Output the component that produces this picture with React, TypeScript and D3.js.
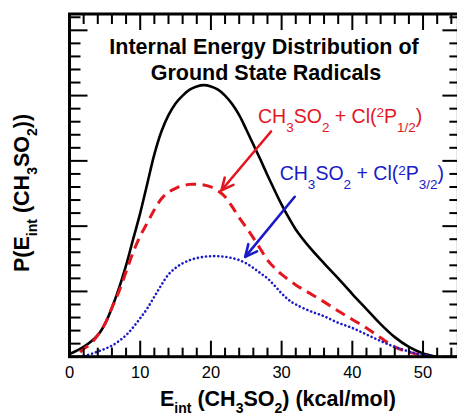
import React from "react";
import * as d3 from "d3";

const W = 457;
const H = 416;

// Total (black solid)
const totalE = [0, 2, 4, 5, 6, 7, 8, 9, 10, 11, 12, 13, 14, 15, 16, 17, 18, 19, 20, 21, 22, 23, 24, 25, 26, 27, 28, 29, 30, 31, 32, 34, 36, 38, 40, 42, 44, 46, 48, 50, 52];
const totalP = [0.04, 0.15, 0.33, 0.5, 0.75, 1.05, 1.4, 1.8, 2.2, 2.65, 3.1, 3.45, 3.7, 3.88, 4.0, 4.09, 4.14, 4.16, 4.14, 4.09, 4.0, 3.87, 3.7, 3.48, 3.25, 3.02, 2.78, 2.55, 2.33, 2.13, 1.95, 1.67, 1.43, 1.2, 0.96, 0.73, 0.5, 0.3, 0.15, 0.05, 0.0];

// Cl(2P1/2) (red dashed)
const p12E = [1.5, 2, 3, 4, 5, 6, 7, 8, 9, 10, 11, 12, 13, 14, 15, 16, 17, 18, 19, 20, 21, 22, 23, 24, 25, 26, 27, 28, 29, 30, 32, 34, 36, 38, 40, 42, 44, 46, 48, 50, 51];
const p12P = [0.07, 0.12, 0.2, 0.33, 0.5, 0.75, 1.0, 1.3, 1.6, 1.85, 2.05, 2.25, 2.42, 2.52, 2.58, 2.62, 2.64, 2.64, 2.63, 2.6, 2.54, 2.45, 2.3, 2.13, 1.98, 1.82, 1.65, 1.48, 1.36, 1.26, 1.1, 0.97, 0.84, 0.7, 0.57, 0.44, 0.29, 0.15, 0.07, 0.02, 0.0];

// Cl(2P3/2) (blue dotted)
const p32E = [1.5, 2, 3, 4, 5, 6, 7, 8, 9, 10, 11, 12, 13, 14, 15, 16, 17, 18, 19, 20, 21, 22, 23, 24, 25, 26, 27, 28, 29, 30, 31, 32, 34, 36, 38, 40, 42, 44, 46, 48, 50, 52];
const p32P = [0.0, 0.01, 0.04, 0.08, 0.12, 0.17, 0.24, 0.33, 0.45, 0.59, 0.74, 0.92, 1.1, 1.26, 1.36, 1.43, 1.48, 1.51, 1.53, 1.54, 1.54, 1.53, 1.51, 1.48, 1.43, 1.36, 1.28, 1.2, 1.09, 0.97, 0.87, 0.8, 0.7, 0.62, 0.52, 0.44, 0.34, 0.24, 0.15, 0.08, 0.03, 0.0];

const xTickLabels = [0, 10, 20, 30, 40, 50];

// Annotation arrows in data coordinates [E, P]
const redArrow = [[28.5, 3.45], [21.5, 2.55]];
const blueArrow = [[31.85, 2.45], [24.85, 1.53]];

const RED = "#e3161f";
const BLUE = "#1a1ac8";
const FONT = "'Liberation Sans', Arial, Helvetica, sans-serif";

type Seg = { t: string; o?: number; s?: number };

function RichText({ x, y, segs, size, weight, fill, anchor, transform }: any) {
  let prev = 0;
  return (
    <text x={x} y={y} fontSize={size} fontWeight={weight} fill={fill} fontFamily={FONT} textAnchor={anchor || "start"} transform={transform}>
      {segs.map((s: Seg, i: number) => {
        const off = s.o || 0;
        const dy = off - prev;
        prev = off;
        return (
          <tspan key={i} dy={dy} fontSize={s.s || size}>
            {s.t}
          </tspan>
        );
      })}
    </text>
  );
}

export default function App() {
  const x = d3.scaleLinear().domain([0, 55]).range([69.5, 458.4]);
  const y = d3.scaleLinear().domain([0, 5.25]).range([356.7, 14]);

  const line = d3
    .line<[number, number]>()
    .x((d) => x(d[0]))
    .y((d) => y(d[1]))
    .curve(d3.curveCatmullRom.alpha(0.5));

  const zip = (a: number[], b: number[]) => a.map((v, i) => [v, b[i]] as [number, number]);

  const xMinor = d3.range(0, 55, 2);
  const yMinor = d3.range(0, 5.21, 0.2);

  const x0 = x(0), x1 = x(55), y0 = y(0), y1 = y(5.25);

  const arrow = (pts: number[][], color: string) => {
    const [sx, sy] = [x(pts[0][0]), y(pts[0][1])];
    const [ex, ey] = [x(pts[1][0]), y(pts[1][1])];
    const ang = Math.atan2(ey - sy, ex - sx);
    const L = 13, a = 0.45;
    const h1 = [ex - L * Math.cos(ang - a), ey - L * Math.sin(ang - a)];
    const h2 = [ex - L * Math.cos(ang + a), ey - L * Math.sin(ang + a)];
    return (
      <g stroke={color} strokeWidth={2.6} fill="none" strokeLinecap="round" strokeLinejoin="round">
        <line x1={sx} y1={sy} x2={ex} y2={ey} />
        <path d={`M${h1[0]},${h1[1]}L${ex},${ey}L${h2[0]},${h2[1]}`} />
      </g>
    );
  };

  const subS = 13.5;

  return (
    <svg width={W} height={H} style={{ position: "absolute", left: 0, top: 0, background: "#fff" }}>
      {/* curves */}
      <path d={line(zip(totalE, totalP)) || ""} fill="none" stroke="#000" strokeWidth={2.6} />
      <path d={line(zip(p12E, p12P)) || ""} fill="none" stroke={RED} strokeWidth={3} strokeDasharray="10.5,6.5" />
      <path d={line(zip(p32E, p32P)) || ""} fill="none" stroke={BLUE} strokeWidth={2.6} strokeDasharray="0.1,4" strokeLinecap="round" />

      {/* arrows */}
      {arrow(redArrow, RED)}
      {arrow(blueArrow, BLUE)}

      {/* ticks */}
      <g stroke="#000" strokeWidth={2}>
        {xMinor.map((v) => {
          const major = v % 10 === 0;
          const len = major ? 16 : 9;
          return (
            <g key={"x" + v}>
              <line x1={x(v)} x2={x(v)} y1={y0} y2={y0 - len} />
              <line x1={x(v)} x2={x(v)} y1={y1} y2={y1 + (major ? 16 : 10)} />
            </g>
          );
        })}
        {yMinor.map((v, i) => {
          const major = i % 5 === 0;
          const len = major ? 18 : 11;
          return (
            <g key={"y" + i}>
              <line x1={x0} x2={x0 + len} y1={y(v)} y2={y(v)} />
              <line x1={x1} x2={x1 - (major ? 16 : 9)} y1={y(v)} y2={y(v)} />
            </g>
          );
        })}
      </g>

      {/* frame */}
      <rect x={x0} y={y1} width={x1 - x0} height={y0 - y1} fill="none" stroke="#000" strokeWidth={3} />

      {/* x tick labels */}
      {xTickLabels.map((v) => (
        <text key={"xl" + v} x={x(v)} y={377.5} fontSize={16.5} fontFamily={FONT} textAnchor="middle" fill="#000">
          {v}
        </text>
      ))}

      {/* title */}
      <text x={264} y={54} fontSize={21.5} fontWeight="bold" fontFamily={FONT} textAnchor="middle">
        Internal Energy Distribution of
      </text>
      <text x={266} y={80} fontSize={21.5} fontWeight="bold" fontFamily={FONT} textAnchor="middle">
        Ground State Radicals
      </text>

      {/* series labels */}
      <RichText
        x={258}
        y={122.7}
        size={19.5}
        fill={RED}
        segs={[
          { t: "CH" },
          { t: "3", o: 9, s: subS },
          { t: "SO" },
          { t: "2", o: 9, s: subS },
          { t: " + Cl(" },
          { t: "2", o: -5.5, s: subS },
          { t: "P" },
          { t: "1/2", o: 9, s: subS },
          { t: ")" },
        ]}
      />
      <RichText
        x={279.7}
        y={180}
        size={19.5}
        fill={BLUE}
        segs={[
          { t: "CH" },
          { t: "3", o: 9, s: subS },
          { t: "SO" },
          { t: "2", o: 9, s: subS },
          { t: " + Cl(" },
          { t: "2", o: -5.5, s: subS },
          { t: "P" },
          { t: "3/2", o: 9, s: subS },
          { t: ")" },
        ]}
      />

      {/* x axis label */}
      <RichText
        x={160}
        y={406}
        size={21.5}
        weight="bold"
        fill="#000"
        segs={[
          { t: "E" },
          { t: "int", o: 7, s: 14 },
          { t: " (CH" },
          { t: "3", o: 7, s: 14 },
          { t: "SO" },
          { t: "2", o: 7, s: 14 },
          { t: ") (kcal/mol)" },
        ]}
      />

      {/* y axis label */}
      <RichText
        x={0}
        y={0}
        transform="translate(28.5,272) rotate(-90)"
        size={21.5}
        weight="bold"
        fill="#000"
        segs={[
          { t: "P(E" },
          { t: "int", o: 8, s: 14 },
          { t: " (CH" },
          { t: "3", o: 8, s: 14 },
          { t: "SO" },
          { t: "2", o: 8, s: 14 },
          { t: "))" },
        ]}
      />
    </svg>
  );
}
